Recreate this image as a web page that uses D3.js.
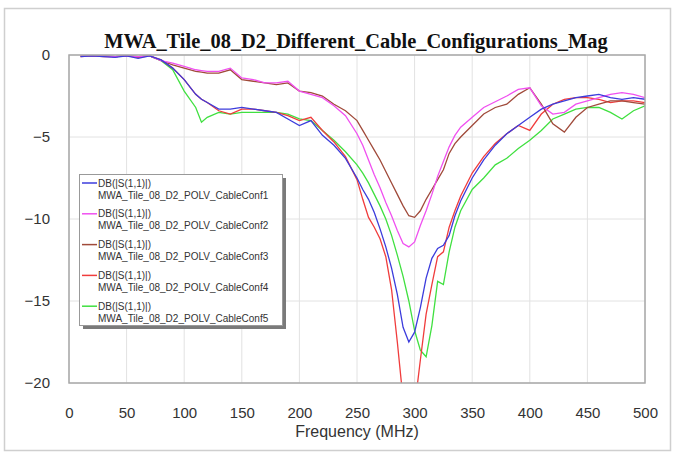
<!DOCTYPE html>
<html>
<head>
<meta charset="utf-8">
<script src="https://cdn.jsdelivr.net/npm/d3@7"></script>
<style>
  body { margin: 0; background: #fff; }
  .tick text { font-family: Arial, "Liberation Sans", sans-serif; fill: #333; }
</style>
</head>
<body>
<div id="chartContainer"></div>
<script>
// frequency samples (MHz), shared by all five traces
var freq = [10,20,30,40,50,60,70,80,90,100,110,115,
    120,130,140,150,160,170,180,190,200,210,220,230,240,250,
    255,260,265,270,275,280,285,290,295,300,305,310,315,320,325,330,335,340,
    350,360,370,380,390,400,410,420,430,440,450,460,470,480,490,500];

// DB(|S(1,1)|) for each cable configuration
var conf1 = [-0.1,-0.05,-0.1,-0.15,-0.05,-0.2,-0.05,-0.3,-0.8,-1.5,-2.4,-2.7,
    -2.9,-3.3,-3.3,-3.2,-3.3,-3.4,-3.5,-3.9,-4.3,-4.0,-4.9,-5.5,-6.3,-7.5,
    -8.2,-8.8,-9.6,-10.6,-11.7,-13.0,-14.6,-16.6,-17.5,-16.9,-15.4,-13.6,-12.4,-11.8,-11.6,-11.0,-9.8,-8.9,
    -7.5,-6.4,-5.5,-4.8,-4.3,-3.8,-3.3,-3.0,-2.8,-2.6,-2.5,-2.4,-2.6,-2.7,-2.6,-2.7];
var conf2 = [-0.05,-0.05,-0.05,-0.1,-0.05,-0.1,-0.05,-0.35,-0.5,-0.7,-0.9,-0.95,
    -1.0,-1.0,-0.8,-1.4,-1.5,-1.7,-1.7,-1.6,-2.2,-2.4,-2.6,-3.1,-3.7,-4.8,
    -5.5,-6.4,-7.3,-8.1,-9.0,-9.8,-10.7,-11.5,-11.7,-11.4,-10.4,-9.5,-8.5,-7.4,-6.5,-5.6,-4.9,-4.4,
    -3.8,-3.2,-2.85,-2.5,-2.1,-2.0,-3.1,-3.6,-3.5,-3.0,-2.8,-2.6,-2.4,-2.3,-2.4,-2.6];
var conf3 = [-0.05,-0.05,-0.05,-0.1,-0.05,-0.1,-0.05,-0.35,-0.6,-0.8,-1.0,-1.05,
    -1.1,-1.1,-0.9,-1.5,-1.6,-1.7,-1.8,-1.7,-2.2,-2.3,-2.5,-3.0,-3.4,-4.0,
    -4.6,-5.2,-5.8,-6.4,-7.1,-7.8,-8.5,-9.2,-9.8,-9.9,-9.5,-8.8,-8.2,-7.6,-7.0,-6.0,-5.4,-5.0,
    -4.3,-3.6,-3.2,-3.0,-2.4,-2.0,-3.0,-4.2,-4.7,-3.8,-3.2,-3.0,-2.8,-2.8,-2.9,-3.0];
var conf4 = [-0.1,-0.05,-0.1,-0.1,-0.05,-0.15,-0.05,-0.3,-0.8,-1.5,-2.4,-2.7,
    -2.9,-3.4,-3.6,-3.3,-3.3,-3.4,-3.5,-3.7,-4.0,-3.8,-4.6,-5.3,-6.2,-7.6,
    -8.8,-9.9,-10.5,-11.2,-12.3,-14.3,-17.5,-21.0,-22.0,-21.5,-18.6,-15.8,-14.0,-12.3,-12.0,-10.5,-9.5,-8.6,
    -7.2,-6.2,-5.4,-4.8,-4.3,-4.6,-3.6,-3.0,-2.7,-2.6,-2.6,-2.7,-2.9,-2.8,-2.8,-2.9];
var conf5 = [-0.05,-0.05,-0.05,-0.1,-0.05,-0.1,-0.05,-0.35,-0.9,-2.2,-3.2,-4.1,
    -3.8,-3.5,-3.6,-3.5,-3.5,-3.5,-3.5,-3.6,-3.9,-4.0,-4.6,-5.2,-5.9,-6.7,
    -7.2,-7.8,-8.5,-9.2,-10.0,-11.0,-12.2,-13.5,-15.0,-16.8,-18.0,-18.4,-16.5,-13.8,-14.0,-12.0,-10.5,-9.5,
    -8.2,-7.5,-6.7,-6.3,-5.7,-5.2,-4.6,-3.9,-3.6,-3.3,-3.2,-3.2,-3.5,-3.9,-3.4,-3.1];

var seriesNames = ["MWA_Tile_08_D2_POLV_CableConf1", "MWA_Tile_08_D2_POLV_CableConf2",
    "MWA_Tile_08_D2_POLV_CableConf3", "MWA_Tile_08_D2_POLV_CableConf4", "MWA_Tile_08_D2_POLV_CableConf5"];
var seriesValues = [conf1, conf2, conf3, conf4, conf5];
var seriesColors = ["#3c3cdc", "#f050f0", "#a04a3a", "#f03c3c", "#40e040"];

var xTicks = [0,50,100,150,200,250,300,350,400,450,500];
var yTicks = [0,-5,-10,-15,-20];

var chartTitle = "MWA_Tile_08_D2_Different_Cable_Configurations_Mag";
var xLabel = "Frequency (MHz)";
var legendLabel = "DB(|S(1,1)|)";

window.onload = setChart;

function setChart(){
    var width = 673, height = 455;
    var margin = {left: 69, right: 28, top: 55, bottom: 72};

    var svg = d3.select("#chartContainer")
        .append("svg")
        .attr("width", width)
        .attr("height", height);

    // light outer frame
    svg.append("rect")
        .attr("x", 4.5).attr("y", 8.5)
        .attr("width", 666).attr("height", 442)
        .attr("fill", "none")
        .attr("stroke", "#cfcfcf")
        .attr("stroke-width", 1.5);

    var x = d3.scaleLinear().domain([0, 500]).range([margin.left, width - margin.right]);
    var y = d3.scaleLinear().domain([-20, 0]).range([height - margin.bottom, margin.top]);

    // grid lines
    svg.append("g")
        .selectAll("line")
        .data(xTicks)
        .enter()
        .append("line")
        .attr("x1", function(d){ return x(d); })
        .attr("x2", function(d){ return x(d); })
        .attr("y1", y(0)).attr("y2", y(-20))
        .attr("stroke", "#e2e2e2");
    svg.append("g")
        .selectAll("line")
        .data(yTicks)
        .enter()
        .append("line")
        .attr("y1", function(d){ return y(d); })
        .attr("y2", function(d){ return y(d); })
        .attr("x1", x(0)).attr("x2", x(500))
        .attr("stroke", "#e2e2e2");

    // axes, labels only
    var xAxis = svg.append("g")
        .attr("transform", "translate(0," + (y(-20) + 15) + ")")
        .call(d3.axisBottom(x).tickValues(xTicks).tickSize(0).tickPadding(9));
    xAxis.select(".domain").remove();
    xAxis.selectAll("text").style("font-size", "15px");

    var yAxis = svg.append("g")
        .attr("transform", "translate(" + (x(0) - 19) + ",0)")
        .call(d3.axisLeft(y).tickValues(yTicks).tickSize(0).tickPadding(0));
    yAxis.select(".domain").remove();
    yAxis.selectAll("text").style("font-size", "15px");

    // traces, clipped to the plot area
    svg.append("clipPath")
        .attr("id", "plotClip")
        .append("rect")
        .attr("x", x(0)).attr("y", y(0))
        .attr("width", x(500) - x(0))
        .attr("height", y(-20) - y(0));

    var line = d3.line()
        .x(function(d){ return x(d[0]); })
        .y(function(d){ return y(d[1]); });

    var traces = svg.append("g").attr("clip-path", "url(#plotClip)");
    for (var i = seriesValues.length - 1; i >= 0; i--){
        var pts = freq.map(function(f, j){ return [f, seriesValues[i][j]]; });
        traces.append("path")
            .datum(pts)
            .attr("d", line)
            .attr("fill", "none")
            .attr("stroke", seriesColors[i])
            .attr("stroke-width", 1.3);
    }

    // plot border
    svg.append("rect")
        .attr("x", x(0)).attr("y", y(0))
        .attr("width", x(500) - x(0))
        .attr("height", y(-20) - y(0))
        .attr("fill", "none")
        .attr("stroke", "#a8a8a8")
        .attr("stroke-width", 1.5);

    // title
    svg.append("text")
        .attr("x", 356)
        .attr("y", 48)
        .attr("text-anchor", "middle")
        .style("font-family", "'Liberation Serif', 'Times New Roman', serif")
        .style("font-weight", "bold")
        .style("font-size", "20.4px")
        .style("fill", "#111")
        .text(chartTitle);

    // x axis title
    svg.append("text")
        .attr("x", (x(0) + x(500)) / 2)
        .attr("y", 437)
        .attr("text-anchor", "middle")
        .style("font-family", "Arial, 'Liberation Sans', sans-serif")
        .style("font-size", "16px")
        .style("fill", "#333")
        .text(xLabel);

    setLegend(svg);
}

function setLegend(svg){
    var lx = 79, ly = 174, lw = 203, lh = 151;

    // drop shadow then box
    svg.append("rect")
        .attr("x", lx + 4).attr("y", ly + 4)
        .attr("width", lw).attr("height", lh)
        .attr("fill", "#7a7a7a");
    svg.append("rect")
        .attr("x", lx + 0.5).attr("y", ly + 0.5)
        .attr("width", lw).attr("height", lh)
        .attr("fill", "#fff")
        .attr("stroke", "#999");

    var item = svg.selectAll(".legendItem")
        .data(seriesNames)
        .enter()
        .append("g")
        .attr("class", "legendItem")
        .attr("transform", function(d, i){
            return "translate(" + lx + "," + (183 + i * 30.8) + ")";
        });

    item.append("line")
        .attr("x1", 3).attr("x2", 18)
        .attr("y1", 0).attr("y2", 0)
        .attr("stroke", function(d, i){ return seriesColors[i]; })
        .attr("stroke-width", 1.5);

    item.append("text")
        .attr("x", 19).attr("y", 3.5)
        .style("font-family", "Arial, 'Liberation Sans', sans-serif")
        .style("font-size", "10px")
        .style("fill", "#333")
        .text(legendLabel);

    item.append("text")
        .attr("x", 19).attr("y", 15.5)
        .style("font-family", "Arial, 'Liberation Sans', sans-serif")
        .style("font-size", "10px")
        .style("fill", "#333")
        .text(function(d){ return d; });
}
</script>
</body>
</html>
